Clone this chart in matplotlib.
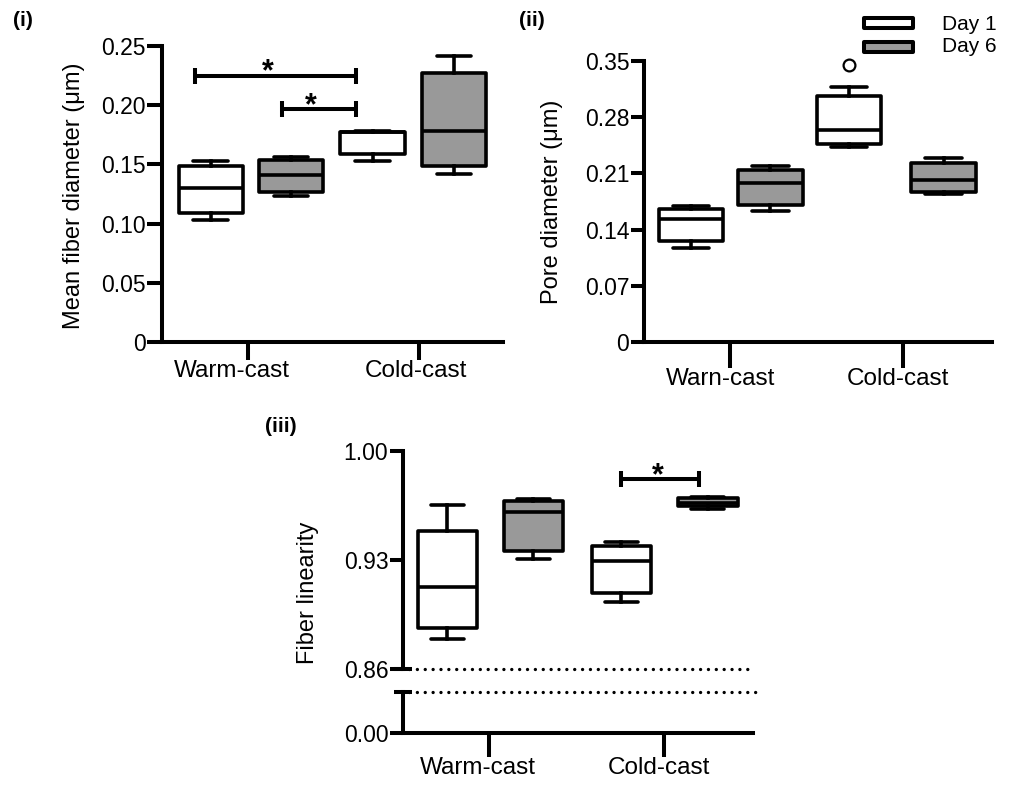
import matplotlib
matplotlib.use('Agg')
import matplotlib.pyplot as plt
from matplotlib.patches import Rectangle
from matplotlib.transforms import ScaledTranslation

plt.rcParams['font.family'] = ['Liberation Sans', 'DejaVu Sans']

W, H = 1009, 785
fig = plt.figure(figsize=(W / 100, H / 100), dpi=100)

# ---------------- data ----------------
series = ['Day 1', 'Day 6']
box_colors = ['white', '#999999', 'white', '#999999']

groups_i = ['Warm-cast', 'Cold-cast']
fiber_yticks = [0, 0.05, 0.10, 0.15, 0.20, 0.25]
fiber_yticklabels = ['0', '0.05', '0.10', '0.15', '0.20', '0.25']
# order: Warm Day1, Warm Day6, Cold Day1, Cold Day6
fiber_whislo = [0.1030, 0.1232, 0.1528, 0.1415]
fiber_q1 = [0.1087, 0.1268, 0.1590, 0.1486]
fiber_med = [0.1299, 0.1409, 0.1775, 0.1782]
fiber_q3 = [0.1486, 0.1537, 0.1775, 0.2271]
fiber_whishi = [0.1525, 0.1559, 0.1780, 0.2418]
fiber_sig_y = [0.2250, 0.1966]

groups_ii = ['Warn-cast', 'Cold-cast']
pore_yticks = [0, 0.07, 0.14, 0.21, 0.28, 0.35]
pore_yticklabels = ['0', '0.07', '0.14', '0.21', '0.28', '0.35']
pore_whislo = [0.1172, 0.1636, 0.2432, 0.1844]
pore_q1 = [0.1263, 0.1707, 0.2466, 0.1865]
pore_med = [0.1537, 0.1984, 0.2640, 0.2018]
pore_q3 = [0.1654, 0.2142, 0.3066, 0.2233]
pore_whishi = [0.1695, 0.2196, 0.3170, 0.2288]
pore_outliers = [[], [], [0.3444], []]

groups_iii = ['Warm-cast', 'Cold-cast']
lin_yticks = [0.86, 0.93, 1.00]
lin_yticklabels = ['0.86', '0.93', '1.00']
lin_low_ticklabels = ['0.00']
lin_whislo = [0.8789, 0.9305, 0.9030, 0.9625]
lin_q1 = [0.8863, 0.9358, 0.9084, 0.9645]
lin_med = [0.9123, 0.9608, 0.9292, 0.9665]
lin_q3 = [0.9486, 0.9679, 0.9390, 0.9695]
lin_whishi = [0.9651, 0.9690, 0.9412, 0.9700]
lin_sig_y = [0.9818]

LW = 2.6    # box line width (pt)
SLW = 2.9   # spine width (pt)


def px_axes(x0, x1, ytop, ybot):
    return fig.add_axes([x0 / W, (H - ybot) / H, (x1 - x0) / W, (ybot - ytop) / H])


def style_axes(ax, xtick_len, ytick_len):
    for s in ['top', 'right']:
        ax.spines[s].set_visible(False)
    for s in ['left', 'bottom']:
        ax.spines[s].set_linewidth(SLW)
        ax.spines[s].set_capstyle('projecting')
    ax.tick_params(axis='y', length=ytick_len, width=SLW, labelsize=16.5, pad=1)
    ax.tick_params(axis='x', length=xtick_len, width=SLW, labelsize=17.5, pad=0)


def draw_boxes(ax, lo, q1, med, q3, hi, positions, width, capw, fliers=None):
    stats = []
    for i in range(len(lo)):
        stats.append(dict(whislo=lo[i], q1=q1[i], med=med[i], q3=q3[i], whishi=hi[i],
                          fliers=(fliers[i] if fliers else [])))
    bp = ax.bxp(stats, positions=positions, widths=width, capwidths=capw,
                patch_artist=True, showfliers=True, manage_ticks=False,
                boxprops=dict(edgecolor='black', linewidth=LW, joinstyle='round'),
                medianprops=dict(color='black', linewidth=LW, solid_capstyle='butt'),
                whiskerprops=dict(color='black', linewidth=LW),
                capprops=dict(color='black', linewidth=LW, solid_capstyle='round'),
                flierprops=dict(marker='o', markerfacecolor='white', markeredgecolor='black',
                                markersize=8.5, markeredgewidth=1.6))
    for patch, c in zip(bp['boxes'], box_colors):
        patch.set_facecolor(c)
    for fl in bp['fliers']:
        fl.set_clip_on(False)
    return bp


def sig_bar(ax, x0, x1, y, star_x, star_dy_px):
    ax.plot([x0, x1], [y, y], color='black', lw=SLW, marker='|', markersize=12,
            markeredgewidth=SLW, solid_capstyle='butt', clip_on=False)
    t = ax.text(star_x, y, '*', ha='center', va='baseline', fontsize=22, fontweight='bold',
                transform=ax.transData + ScaledTranslation(0, star_dy_px / 100, fig.dpi_scale_trans))
    return t


def shift_xlabels(ax, offsets_px):
    for lab, dx in zip(ax.get_xticklabels(), offsets_px):
        lab.set_transform(lab.get_transform() + ScaledTranslation(dx / 100, 0, fig.dpi_scale_trans))


# ---------------- panel (i) ----------------
ax1 = px_axes(162, 503, 46, 342)
ax1.set_xlim(-0.503, 1.491)
ax1.set_ylim(0, 0.25)
draw_boxes(ax1, fiber_whislo, fiber_q1, fiber_med, fiber_q3, fiber_whishi,
           positions=[-0.219, 0.251, 0.728, 1.205], width=0.375, capw=0.2)
ax1.set_yticks(fiber_yticks, fiber_yticklabels)
ax1.set_xticks([0, 1], groups_i)
style_axes(ax1, 13, 10.8)
sig_bar(ax1, -0.31, 0.632, fiber_sig_y[0], 0.117, -5)
sig_bar(ax1, 0.199, 0.632, fiber_sig_y[1], 0.368, -5)

# ---------------- panel (ii) ----------------
ax2 = px_axes(644, 992, 60.7, 342.3)
ax2.set_xlim(-0.497, 1.514)
ax2.set_ylim(0, 0.35)
draw_boxes(ax2, pore_whislo, pore_q1, pore_med, pore_q3, pore_whishi,
           positions=[-0.225, 0.234, 0.688, 1.234], width=0.373, capw=0.21, fliers=pore_outliers)
ax2.set_yticks(pore_yticks, pore_yticklabels)
ax2.set_xticks([0, 1], groups_ii)
style_axes(ax2, 18.5, 9.6)

# ---------------- panel (iii) ----------------
ax3 = px_axes(403, 753, 450.7, 668.7)
ax3.set_xlim(-0.491, 1.509)
ax3.set_ylim(0.86, 1.00)
draw_boxes(ax3, lin_whislo, lin_q1, lin_med, lin_q3, lin_whishi,
           positions=[-0.237, 0.254, 0.757, 1.251], width=0.34, capw=0.19)
ax3.set_yticks(lin_yticks, lin_yticklabels)
ax3.set_xticks([])
style_axes(ax3, 0, 9.6)
ax3.spines['bottom'].set_visible(False)
sig_bar(ax3, 0.754, 1.2, lin_sig_y[0], 0.966, -5)
# break marks and dotted lines
ax3.plot([0], [0], transform=ax3.transAxes, marker='_', markersize=13,
         markeredgewidth=SLW, color='black', clip_on=False)
ax3.axhline(0.86, xmin=0.016, xmax=0.994, color='black', lw=2.4,
            linestyle=(0, (0.01, 2.35)), dash_capstyle='round', clip_on=False)

ax3b = px_axes(403, 753, 691.7, 733.3)
ax3b.set_xlim(-0.491, 1.509)
ax3b.set_ylim(0, 1)
ax3b.set_yticks([0], lin_low_ticklabels)
ax3b.set_xticks([0, 1], groups_iii)
style_axes(ax3b, 17, 9.6)
ax3b.plot([0], [1], transform=ax3b.transAxes, marker='_', markersize=13,
          markeredgewidth=SLW, color='black', clip_on=False)
ax3b.axhline(1.0, xmin=0.016, xmax=1.017, color='black', lw=2.4,
             linestyle=(0, (0.01, 2.35)), dash_capstyle='round', clip_on=False)

# ---------------- axis labels ----------------
fig.text(74 / W, 1 - 195.5 / H, 'Mean fiber diameter (μm)', rotation=90,
         ha='center', va='center', fontsize=17)
fig.text(552 / W, 1 - 202 / H, 'Pore diameter (μm)', rotation=90,
         ha='center', va='center', fontsize=17)
fig.text(308 / W, 1 - 593 / H, 'Fiber linearity', rotation=90,
         ha='center', va='center', fontsize=17)

# panel labels
fig.text(23 / W, 1 - 20 / H, '(i)', ha='center', va='center', fontsize=15, fontweight='bold')
fig.text(532 / W, 1 - 21 / H, '(ii)', ha='center', va='center', fontsize=15, fontweight='bold')
fig.text(281 / W, 1 - 426 / H, '(iii)', ha='center', va='center', fontsize=15, fontweight='bold')

# ---------------- legend ----------------
legend_rows = [(18, 28, 30), (42, 52, 52)]
for (yt, yb, ybase), name, col in zip(legend_rows, series, [box_colors[0], box_colors[1]]):
    fig.patches.append(Rectangle((864 / W, 1 - yb / H), (913 - 864) / W, (yb - yt) / H,
                                 transform=fig.transFigure, facecolor=col, edgecolor='black',
                                 linewidth=SLW, joinstyle='round'))
    fig.text(942 / W, 1 - ybase / H, name, ha='left', va='baseline', fontsize=15)

# shift category labels like the reference
shift_xlabels(ax1, [-16, -3.5])
shift_xlabels(ax2, [-9, -5])
shift_xlabels(ax3b, [-11, -5])

fig.savefig('out.png', dpi=100)
